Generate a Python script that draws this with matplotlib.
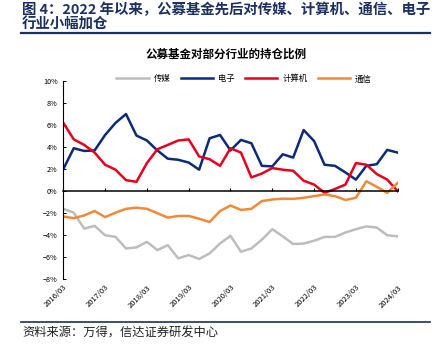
import numpy as np
from matplotlib import pyplot as plt

plt.rcParams['font.family'] = ['Noto Sans CJK SC', 'DejaVu Sans']
plt.rcParams['axes.unicode_minus'] = True

# quarterly, 2016/03 .. 2024/03
quarters = [f'{y}/{m:02d}' for y in range(2016, 2025) for m in (3, 6, 9, 12)][:33]
year_ticks = [q for q in quarters if q.endswith('/03')]

media = [-1.6, -1.95, -3.4, -3.15, -4.0, -4.15, -5.2, -5.1, -4.6, -5.35, -4.9,
         -6.1, -5.8, -6.15, -5.65, -4.75, -4.05, -5.5, -5.2, -4.4, -3.45, -4.1,
         -4.8, -4.75, -4.5, -4.15, -4.15, -3.75, -3.45, -3.2, -3.3, -4.0, -4.1]
electronics = [2.0, 3.9, 3.65, 3.7, 5.1, 6.2, 7.0, 5.05, 4.6, 3.7, 2.95,
               2.85, 2.6, 1.95, 4.8, 5.1, 3.7, 4.65, 4.35, 2.3, 2.25, 3.35,
               3.05, 5.55, 4.55, 2.4, 2.3, 1.7, 1.05, 2.3, 2.45, 3.75, 3.5]
computer = [6.2, 4.7, 4.2, 3.5, 2.4, 1.95, 1.0, 0.85, 2.55, 3.8, 4.2,
            4.6, 4.7, 3.15, 2.9, 2.3, 3.9, 3.5, 1.25, 1.6, 2.1, 1.95,
            1.85, 0.95, 0.6, -0.15, 0.2, 0.6, 2.55, 2.4, 1.55, 1.05, 0.0]
telecom = [-2.3, -2.45, -2.2, -1.8, -2.35, -1.95, -1.6, -1.5, -1.6, -2.0, -2.4,
           -2.25, -2.25, -2.5, -2.8, -1.8, -1.3, -1.7, -1.6, -0.9, -0.75, -0.68,
           -0.7, -0.6, -0.45, -0.3, -0.45, -0.8, -0.6, 0.9, 0.4, -0.15, 0.75]

series = [('传媒', media, '#bdbdbd'),
          ('电子', electronics, '#0c2a7a'),
          ('计算机', computer, '#e60020'),
          ('通信', telecom, '#f08a3a')]

fig = plt.figure(figsize=(4.39, 3.57), dpi=100)

# report header
fig.text(0.05, 0.973, '图 4：2022 年以来，公募基金先后对传媒、计算机、通信、电子',
         fontsize=10.4, fontweight='bold', color='#1c3160', va='center')
fig.text(0.05, 0.93, '行业小幅加仓', fontsize=10.4, fontweight='bold',
         color='#1c3160', va='center')
fig.add_artist(plt.Line2D([0.048, 0.98], [0.907, 0.907], color='#1c2f5e', lw=1.6))
fig.add_artist(plt.Line2D([0.048, 0.98], [0.098, 0.098], color='#1c2f5e', lw=1.2))
fig.text(0.05, 0.067, '资料来源：万得，信达证券研发中心', fontsize=8.8,
         style='italic', color='#222222', va='center')

fig.text(0.515, 0.849, '公募基金对部分行业的持仓比例', fontsize=8.3,
         fontweight='bold', ha='center', va='center')

ax = fig.add_axes([0.1442, 0.2176, 0.7617, 0.5555])
x = np.arange(len(quarters))
for name, vals, col in series:
    ax.plot(x, vals, color=col, lw=1.8, label=name)

ax.set_xlim(0, len(quarters) - 1)
ax.set_ylim(-8, 10)
yt = np.arange(-8, 11, 2)
ax.set_yticks(yt)
ax.set_yticklabels([f'{v}%'.replace('-', '−') for v in yt], fontsize=5.2)
ax.tick_params(axis='y', direction='in', length=2.5, width=0.7, pad=4)

for s in ('top', 'right'):
    ax.spines[s].set_visible(False)
ax.spines['left'].set_linewidth(0.8)
ax.spines['bottom'].set_position(('data', 0))
ax.spines['bottom'].set_linewidth(1.1)
ax.set_xticks(x[::4])
ax.tick_params(axis='x', direction='in', length=2.5, width=0.8, labelbottom=False)

sec = ax.secondary_xaxis(0.0)
sec.set_xticks(x[::4])
sec.set_xticklabels(year_ticks, rotation=45, ha='right', rotation_mode='anchor',
                    fontsize=5.5)
sec.tick_params(length=0, pad=3)
sec.spines['bottom'].set_visible(False)

fig.legend(loc='center', bbox_to_anchor=(0.556, 0.779), ncol=4, frameon=False,
           fontsize=6, handlelength=3.9, handletextpad=0.6, columnspacing=1.2)

plt.savefig('out.png', dpi=100)
